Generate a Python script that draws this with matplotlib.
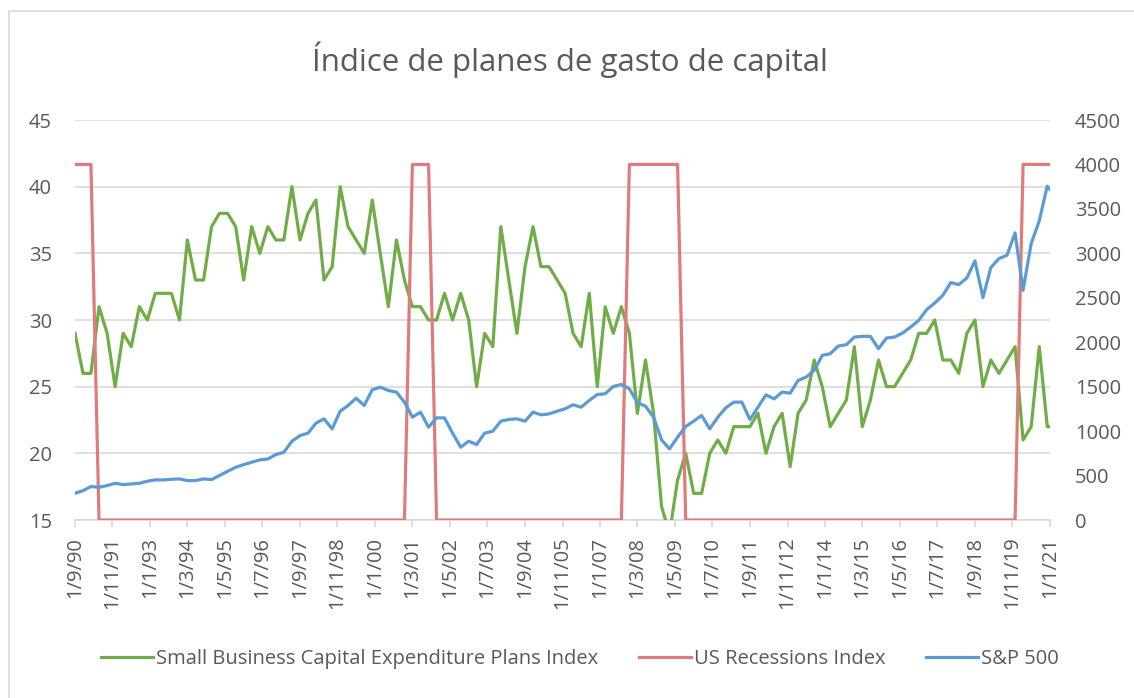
import matplotlib
matplotlib.use("Agg")
import matplotlib.pyplot as plt
import pandas as pd
import numpy as np
from matplotlib.patches import Rectangle

# ---- data (quarterly from Sep-1990 to Dec-2020, plus Jan-2021) ----
dates = list(pd.date_range("1990-09-01", "2020-12-01", freq="3MS")) + [pd.Timestamp("2021-01-01")]

capex = [29, 26, 26, 31, 29, 25, 29, 28, 31, 30, 32, 32, 32, 30, 36, 33, 33, 37, 38, 38,
         37, 33, 37, 35, 37, 36, 36, 40, 36, 38, 39, 33, 34, 40, 37, 36, 35, 39, 35, 31,
         36, 33, 31, 31, 30, 30, 32, 30, 32, 30, 25, 29, 28, 37, 33, 29, 34, 37, 34, 34,
         33, 32, 29, 28, 32, 25, 31, 29, 31, 29, 23, 27, 23, 16, 14, 18, 20, 17, 17, 20,
         21, 20, 22, 22, 22, 23, 20, 22, 23, 19, 23, 24, 27, 25, 22, 23, 24, 28, 22, 24,
         27, 25, 25, 26, 27, 29, 29, 30, 27, 27, 26, 29, 30, 25, 27, 26, 27, 28, 21, 22,
         28, 22, 22]

recession = [4000, 4000, 4000] + [0] * 39 + [4000, 4000, 4000] + [0] * 24 + [4000] * 7 + [0] * 42 + [4000] * 5

sp500 = [300, 330, 376, 368, 387, 413, 398, 406, 413, 436, 451, 451, 458, 462, 443, 443, 462, 455, 500, 548,
         593, 623, 650, 676, 687, 736, 762, 886, 950, 977, 1089, 1138, 1025, 1224, 1288, 1371, 1288, 1465, 1495, 1457,
         1439, 1326, 1157, 1213, 1044, 1149, 1149, 977, 819, 886, 849, 977, 999, 1112, 1131, 1138, 1112, 1213, 1183, 1194,
         1224, 1251, 1296, 1269, 1345, 1412, 1420, 1502, 1525, 1476, 1320, 1281, 1157, 901, 800, 932, 1052, 1112, 1176, 1025,
         1157, 1262, 1326, 1326, 1131, 1269, 1408, 1363, 1439, 1427, 1570, 1608, 1683, 1852, 1870, 1957, 1972, 2058, 2066, 2066,
         1927, 2047, 2058, 2103, 2171, 2246, 2366, 2441, 2528, 2671, 2648, 2723, 2915, 2502, 2840, 2941, 2979, 3230, 2584, 3110,
         3365, 3756, 3718]

labels = ["Small Business Capital Expenditure Plans Index", "US Recessions Index", "S&P 500"]
title = "Índice de planes de gasto de capital"

# ---- style ----
plt.rcParams['font.family'] = ['Open Sans', 'DejaVu Sans']
txt = '#595959'
green = '#70AD47'
red = '#E07B7B'
blue = '#5B9BD5'
W, H = 1134, 698
fig = plt.figure(figsize=(W / 100, H / 100), dpi=100)
fig.patches.append(Rectangle((9 / W, -0.1), 1.2, (H - 11) / H + 0.1, transform=fig.transFigure,
                             fill=False, edgecolor='#D9D9D9', linewidth=1.2))

ax = fig.add_axes([75 / W, 1 - 520 / H, (1050 - 75) / W, 400 / H])
ax2 = ax.twinx()

lw = 2.3
l1, = ax.plot(dates, capex, color=green, lw=lw, zorder=3)
l2, = ax2.plot(dates, recession, color=red, lw=lw, zorder=2)
l3, = ax2.plot(dates, sp500, color=blue, lw=lw, zorder=3)

ax.set_ylim(15, 45)
ax.set_yticks(np.arange(15, 46, 5))
ax2.set_ylim(0, 4500)
ax2.set_yticks(np.arange(0, 4501, 500))

start = pd.Timestamp("1990-09-01")
end = pd.Timestamp("2021-01-01")
ax.set_xlim(start, end)
ticks = [start + pd.DateOffset(months=14 * i) for i in range(27)]
ax.set_xticks(ticks)
ax.set_xticklabels([f"{d.day}/{d.month}/{d.strftime('%y')}" for d in ticks], rotation=90)

ax.grid(axis='y', color='#D9D9D9', lw=1.2)
ax.set_axisbelow(True)
for a in (ax, ax2):
    for s in ('top', 'left', 'right'):
        a.spines[s].set_visible(False)
    a.spines['bottom'].set_color('#D9D9D9')
    a.spines['bottom'].set_linewidth(1.2)
ax2.spines['bottom'].set_visible(False)
ax.tick_params(axis='x', colors='#D9D9D9', length=5, width=1.2, labelcolor=txt, labelsize=14.5, pad=7)
ax.tick_params(axis='y', length=0, labelcolor=txt, labelsize=14.5, pad=16.5)
ax2.tick_params(axis='y', length=0, labelcolor=txt, labelsize=14.5, pad=18)

fig.text(570 / W, 1 - 60 / H, title, ha='center', va='center', fontsize=22.5, color=txt)

fig.legend([l1, l2, l3], labels, loc='center', bbox_to_anchor=(580 / W, 1 - 659 / H), ncol=3,
           frameon=False, fontsize=14.5, labelcolor=txt, handlelength=2.6, handletextpad=0.15,
           columnspacing=2.0)

fig.savefig("out.png", dpi=100)
